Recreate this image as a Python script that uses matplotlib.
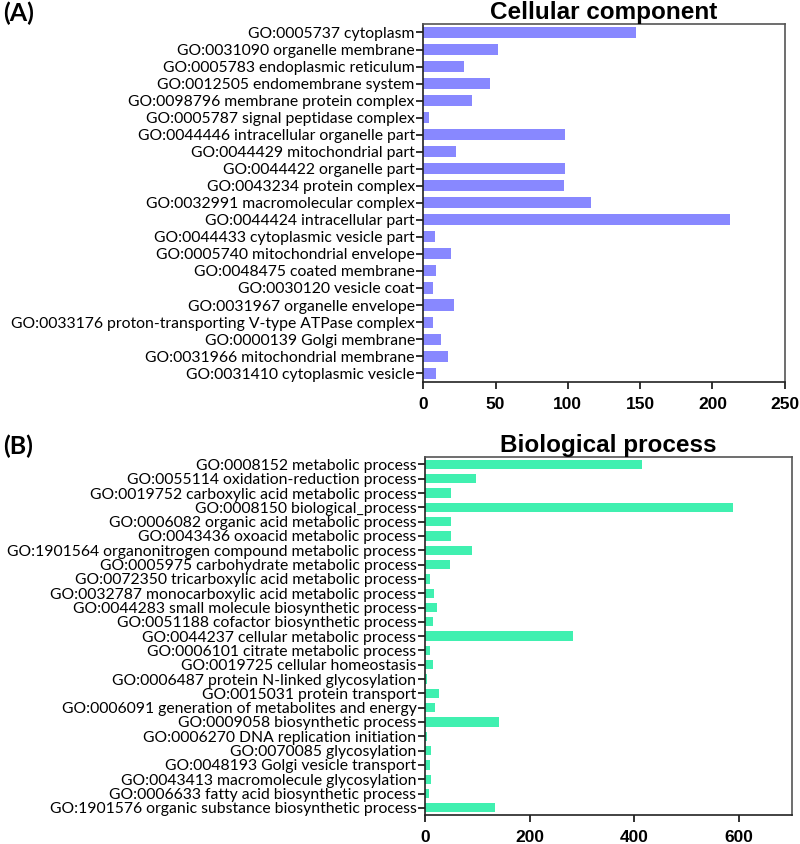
import matplotlib
matplotlib.use("Agg")
import matplotlib.pyplot as plt

# Cellular component (A)
cc_terms = [
    "GO:0005737 cytoplasm",
    "GO:0031090 organelle membrane",
    "GO:0005783 endoplasmic reticulum",
    "GO:0012505 endomembrane system",
    "GO:0098796 membrane protein complex",
    "GO:0005787 signal peptidase complex",
    "GO:0044446 intracellular organelle part",
    "GO:0044429 mitochondrial part",
    "GO:0044422 organelle part",
    "GO:0043234 protein complex",
    "GO:0032991 macromolecular complex",
    "GO:0044424 intracellular part",
    "GO:0044433 cytoplasmic vesicle part",
    "GO:0005740 mitochondrial envelope",
    "GO:0048475 coated membrane",
    "GO:0030120 vesicle coat",
    "GO:0031967 organelle envelope",
    "GO:0033176 proton-transporting V-type ATPase complex",
    "GO:0000139 Golgi membrane",
    "GO:0031966 mitochondrial membrane",
    "GO:0031410 cytoplasmic vesicle",
]
cc_counts = [147, 52, 28, 46, 34, 4, 98, 23, 98, 97, 116, 212, 8, 19, 9, 7, 21, 7, 12, 17, 9]
cc_ticks = [0, 50, 100, 150, 200, 250]

# Biological process (B)
bp_terms = [
    "GO:0008152 metabolic process",
    "GO:0055114 oxidation-reduction process",
    "GO:0019752 carboxylic acid metabolic process",
    "GO:0008150 biological_process",
    "GO:0006082 organic acid metabolic process",
    "GO:0043436 oxoacid metabolic process",
    "GO:1901564 organonitrogen compound metabolic process",
    "GO:0005975 carbohydrate metabolic process",
    "GO:0072350 tricarboxylic acid metabolic process",
    "GO:0032787 monocarboxylic acid metabolic process",
    "GO:0044283 small molecule biosynthetic process",
    "GO:0051188 cofactor biosynthetic process",
    "GO:0044237 cellular metabolic process",
    "GO:0006101 citrate metabolic process",
    "GO:0019725 cellular homeostasis",
    "GO:0006487 protein N-linked glycosylation",
    "GO:0015031 protein transport",
    "GO:0006091 generation of metabolites and energy",
    "GO:0009058 biosynthetic process",
    "GO:0006270 DNA replication initiation",
    "GO:0070085 glycosylation",
    "GO:0048193 Golgi vesicle transport",
    "GO:0043413 macromolecule glycosylation",
    "GO:0006633 fatty acid biosynthetic process",
    "GO:1901576 organic substance biosynthetic process",
]
bp_counts = [415, 97, 50, 588, 50, 50, 90, 48, 9, 17, 24, 16, 283, 9, 16, 4, 28, 20, 141, 4, 12, 9, 12, 8, 134]
bp_ticks = [0, 200, 400, 600]

LABEL_FONT = ["Lato", "DejaVu Sans"]
NUM_FONT = ["Liberation Sans", "DejaVu Sans"]


def draw_panel(ax, terms, counts, ticks, xmax, color, title):
    y = list(range(len(terms)))
    ax.barh(y, counts, height=0.65, color=color, edgecolor="none")
    ax.set_ylim(len(terms) - 0.5, -0.5)
    ax.set_xlim(0, xmax)
    ax.set_yticks(y)
    ax.set_yticklabels(terms, family=LABEL_FONT, fontsize=11.3)
    ax.set_xticks(ticks)
    ax.set_xticklabels([str(t) for t in ticks], family=NUM_FONT,
                       fontsize=12.5, fontweight="bold")
    ax.tick_params(axis="y", length=5, width=1.3, pad=1, color="#222222")
    ax.tick_params(axis="x", length=5, width=1.3, pad=6, color="#222222")
    for s in ax.spines.values():
        s.set_color("#555555")
        s.set_linewidth(1.2)
    ax.spines["left"].set_color("#222222")
    ax.spines["bottom"].set_color("#222222")
    ax.set_title(title, family=NUM_FONT, fontsize=17.5, fontweight="bold", pad=3)


fig = plt.figure(figsize=(8, 8.44), dpi=100)
ax_a = fig.add_axes([0.529, 0.5478, 0.452, 0.4238])
ax_b = fig.add_axes([0.531, 0.0344, 0.4586, 0.4238])

draw_panel(ax_a, cc_terms, cc_counts, cc_ticks, 250, "#8888ff", "Cellular component")
draw_panel(ax_b, bp_terms, bp_counts, bp_ticks, 700, "#40f0b0", "Biological process")

fig.text(0.004, 0.998, "(A)", family=LABEL_FONT, fontsize=18, fontweight="bold", va="top")
fig.text(0.004, 0.4716, "(B)", family=LABEL_FONT, fontsize=18, fontweight="bold", va="center")

fig.savefig("out.png", dpi=100)
